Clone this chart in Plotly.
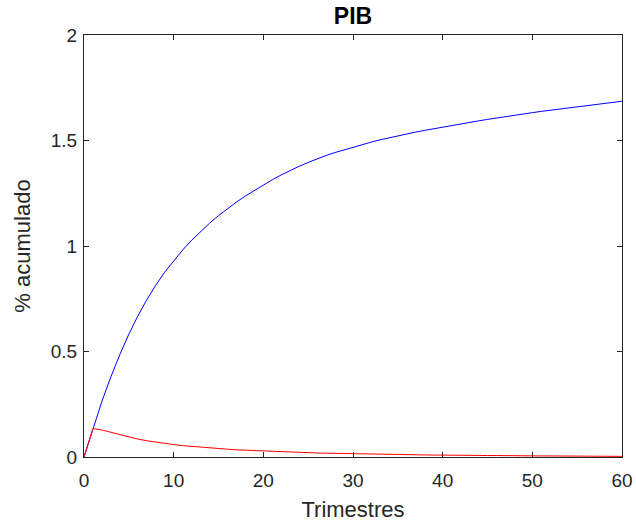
"""PIB: respuesta acumulada por trimestre (estilo MATLAB)."""
import plotly.graph_objects as go

# Trimestres 0..60
trimestres = list(range(61))

# Curva azul (% acumulado)
pib_azul = [
    0.000, 0.137, 0.264, 0.380, 0.486, 0.582, 0.668, 0.745, 0.814, 0.876,
    0.931, 0.981, 1.027, 1.069, 1.108, 1.144, 1.177, 1.208, 1.237, 1.264,
    1.290, 1.314, 1.337, 1.358, 1.378, 1.396, 1.413, 1.429, 1.443, 1.456,
    1.469, 1.481, 1.492, 1.503, 1.513, 1.522, 1.531, 1.540, 1.548, 1.556,
    1.564, 1.572, 1.579, 1.586, 1.593, 1.600, 1.607, 1.613, 1.620, 1.626,
    1.632, 1.638, 1.643, 1.649, 1.654, 1.660, 1.665, 1.670, 1.676, 1.681,
    1.686,
]

# Curva roja
pib_rojo = [
    0.000, 0.135, 0.128, 0.117, 0.105, 0.094, 0.085, 0.077, 0.070, 0.064,
    0.059, 0.054, 0.050, 0.046, 0.043, 0.040, 0.037, 0.034, 0.032, 0.030,
    0.028, 0.026, 0.024, 0.023, 0.021, 0.020, 0.019, 0.018, 0.017, 0.016,
    0.015, 0.014, 0.013, 0.013, 0.012, 0.011, 0.011, 0.010, 0.010, 0.009,
    0.009, 0.008, 0.008, 0.008, 0.007, 0.007, 0.007, 0.006, 0.006, 0.006,
    0.005, 0.005, 0.005, 0.005, 0.004, 0.004, 0.004, 0.004, 0.004, 0.003,
    0.003,
]

FONT = "Liberation Sans, Arial, sans-serif"
AXIS_COLOR = "#262626"

fig = go.Figure()
fig.add_trace(go.Scatter(x=trimestres, y=pib_azul, mode="lines",
                         line=dict(color="#0000FF", width=1), showlegend=False))
fig.add_trace(go.Scatter(x=trimestres, y=pib_rojo, mode="lines",
                         line=dict(color="#FF0000", width=1), showlegend=False))

axis_common = dict(
    showline=True, linecolor=AXIS_COLOR, linewidth=1.3, mirror="ticks",
    ticks="inside", ticklen=5, tickwidth=1.3, tickcolor=AXIS_COLOR,
    showgrid=False, zeroline=False, automargin=False,
    tickfont=dict(family=FONT, size=19, color=AXIS_COLOR),
)

fig.update_xaxes(range=[0, 60], dtick=10, tick0=0, ticklabelstandoff=6,
                 title=dict(text="Trimestres", font=dict(family=FONT, size=22, color=AXIS_COLOR), standoff=11),
                 **axis_common)
fig.update_yaxes(range=[0, 2], dtick=0.5, tick0=0, ticklabelstandoff=2,
                 title=dict(text="% acumulado", font=dict(family=FONT, size=22, color=AXIS_COLOR), standoff=13),
                 **axis_common)

fig.update_layout(
    width=636, height=523,
    margin=dict(l=84, r=14, t=35, b=66),
    paper_bgcolor="white", plot_bgcolor="white",
    title=dict(text="<b>PIB</b>", x=0.5, xanchor="center", y=0.969, yanchor="middle",
               xref="paper", automargin=False,
               font=dict(family=FONT, size=23, color="black")),
)

# sin margen del body para que la figura ocupe la ventana exacta
fig.write_html("out.html", config={"displayModeBar": False},
               post_script="document.body.style.margin='0';")
